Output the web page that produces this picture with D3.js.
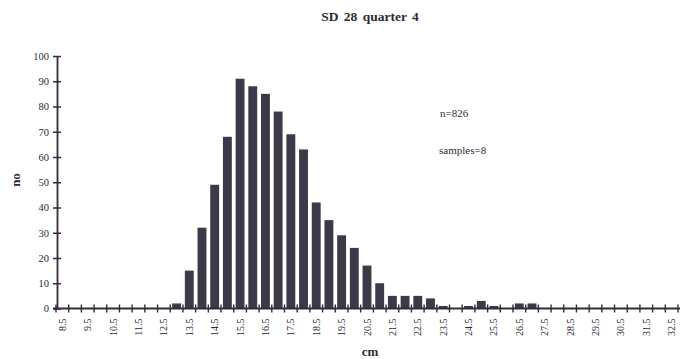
<!DOCTYPE html>
<html>
<head>
<meta charset="utf-8">
<script src="https://cdn.jsdelivr.net/npm/d3@7"></script>
<style>
  html, body { margin: 0; padding: 0; background: #ffffff; }
  svg { display: block; }
  text { font-family: "Liberation Serif", "DejaVu Serif", serif; fill: #2b2b33; }
</style>
</head>
<body>
<svg id="chart" width="680" height="359"></svg>
<script>
// Length classes (cm), half-centimetre steps from 8.5 to 32.5
const lengthClasses = d3.range(17, 66).map(v => v / 2);
// Fish counted per length class (classes not listed are zero)
const countClasses = [13.0, 13.5, 14.0, 14.5, 15.0, 15.5, 16.0, 16.5, 17.0, 17.5, 18.0, 18.5, 19.0, 19.5, 20.0, 20.5, 21.0, 21.5, 22.0, 22.5, 23.0, 23.5, 24.5, 25.0, 25.5, 26.5, 27.0];
const countValues  = [2, 15, 32, 49, 68, 91, 88, 85, 78, 69, 63, 42, 35, 29, 24, 17, 10, 5, 5, 5, 4, 1, 1, 3, 1, 2, 2];
const yTicks = [0, 10, 20, 30, 40, 50, 60, 70, 80, 90, 100];
const titleText = "SD 28 quarter 4";
const notes = ["n=826", "samples=8"];

const counts = new Map(countClasses.map((c, i) => [c, countValues[i]]));
const data = lengthClasses.map(c => ({ c, v: counts.get(c) || 0 }));

const svg = d3.select("#chart");
const plotLeft = 56, plotRight = 678, plotTop = 56, plotBottom = 308.5;
const barColor = "#3a3a48";
const axisColor = "#2e2e36";

const x = d3.scaleBand().domain(lengthClasses).range([plotLeft, plotRight]).paddingInner(0.3).paddingOuter(0.15);
const y = d3.scaleLinear().domain([0, 100]).range([plotBottom, plotTop]);
const step = x.step();
const edge = i => plotLeft + i * step;

// bars
svg.append("g").selectAll("rect")
  .data(data.filter(d => d.v > 0))
  .join("rect")
  .attr("x", d => x(d.c))
  .attr("width", x.bandwidth())
  .attr("y", d => y(d.v))
  .attr("height", d => y(0) - y(d.v))
  .attr("fill", barColor);

// y axis with cross ticks
const yAxis = svg.append("g")
  .attr("transform", `translate(${plotLeft + 1},0)`)
  .call(d3.axisLeft(y).tickValues(yTicks).tickSize(0).tickPadding(8));
yAxis.select(".domain").attr("stroke", axisColor).attr("stroke-width", 1.8);
yAxis.selectAll(".tick line").attr("x1", -4).attr("x2", 4).attr("stroke", axisColor).attr("stroke-width", 1.5);
yAxis.selectAll(".tick text").style("font-size", "10.5px").style("font-family", "Liberation Serif, serif").attr("fill", "#2b2b33");

// x axis line
svg.append("line")
  .attr("x1", plotLeft - 3).attr("x2", 680)
  .attr("y1", y(0)).attr("y2", y(0))
  .attr("stroke", axisColor).attr("stroke-width", 1.8);

// x cross ticks on class boundaries
svg.append("g").selectAll("line")
  .data(d3.range(0, lengthClasses.length + 1))
  .join("line")
  .attr("x1", i => edge(i)).attr("x2", i => edge(i))
  .attr("y1", y(0) - 4).attr("y2", y(0) + 4)
  .attr("stroke", axisColor).attr("stroke-width", 1.4);

// x labels on every other class, rotated
svg.append("g").selectAll("text")
  .data(lengthClasses.filter(c => (c * 2) % 2 === 1))
  .join("text")
  .attr("transform", c => `translate(${x(c) + x.bandwidth() / 2 + 3.5},${y(0) + 10}) rotate(-90)`)
  .attr("text-anchor", "end")
  .style("font-size", "10px")
  .text(c => c.toFixed(1));

// title
svg.append("text")
  .attr("x", 370).attr("y", 21)
  .attr("text-anchor", "middle")
  .style("font-size", "13.5px").style("font-weight", "bold").style("word-spacing", "2px")
  .text(titleText);

// axis titles
svg.append("text")
  .attr("transform", `translate(20,180) rotate(-90)`)
  .attr("text-anchor", "middle")
  .style("font-size", "13px").style("font-weight", "bold")
  .text("no");

svg.append("text")
  .attr("x", 370).attr("y", 356)
  .attr("text-anchor", "middle")
  .style("font-size", "13px").style("font-weight", "bold")
  .text("cm");

// sample notes
svg.append("text").attr("x", 440).attr("y", 117).style("font-size", "11px").text(notes[0]);
svg.append("text").attr("x", 439).attr("y", 154).style("font-size", "11px").text(notes[1]);
</script>
</body>
</html>
